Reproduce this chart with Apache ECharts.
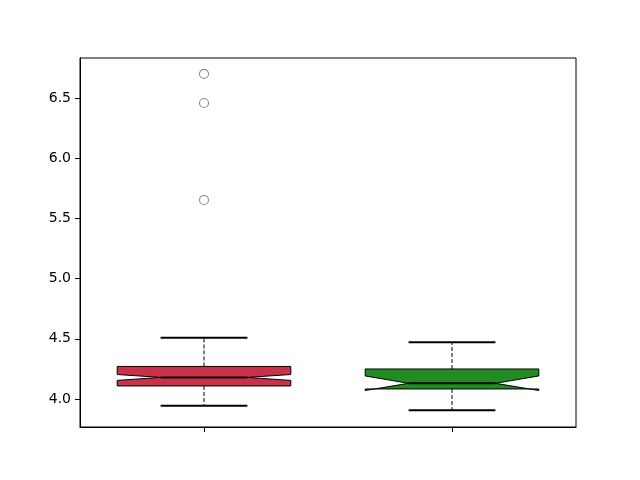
<!DOCTYPE html>
<html>
<head>
<meta charset="utf-8">
<script src="https://cdn.jsdelivr.net/npm/echarts@6/dist/echarts.min.js"></script>
<style>html,body{margin:0;padding:0;background:#fff}#c{width:640px;height:480px}</style>
</head>
<body>
<div id="c"></div>
<script>
// ---- data ----
const categories = ['1', '2'];
const whiskerLow = [3.944, 3.906];
const q1 = [4.108, 4.083];
const notchLow = [4.154, 4.070];
const median = [4.179, 4.130];
const notchHigh = [4.203, 4.191];
const q3 = [4.270, 4.249];
const whiskerHigh = [4.509, 4.471];
const outliersA = [5.653, 6.458, 6.700];
const outliersB = [];
const yTicks = [4.0, 4.5, 5.0, 5.5, 6.0, 6.5];
const boxColors = ['#c8334b', '#228b22'];

const boxData = categories.map((c, i) => [i, whiskerLow[i], q1[i], notchLow[i], median[i], notchHigh[i], q3[i], whiskerHigh[i]]);
const outlierData = [];
outliersA.forEach(v => outlierData.push([0, v]));
outliersB.forEach(v => outlierData.push([1, v]));

function renderBox(params, api) {
  const i = api.value(0);
  const band = api.size([1, 0])[0];
  const bw = band * 0.7;
  const cw = bw * 0.5;
  const c = api.coord([i, api.value(4)]);
  const x = c[0];
  const y = v => api.coord([i, v])[1];
  const wl = y(api.value(1)), bq1 = y(api.value(2)), nl = y(api.value(3)),
        md = y(api.value(4)), nh = y(api.value(5)), bq3 = y(api.value(6)), wh = y(api.value(7));
  const L = x - bw / 2, R = x + bw / 2, cl = x - cw / 2, cr = x + cw / 2;
  const pts = [[L, bq1], [R, bq1], [R, nl], [cr, md], [R, nh], [R, bq3], [L, bq3], [L, nh], [cl, md], [L, nl], [L, bq1]];
  const dash = { stroke: '#000', lineWidth: 1, lineDash: [4, 2] };
  const solid2 = { stroke: '#000', lineWidth: 2 };
  return {
    type: 'group',
    children: [
      { type: 'line', shape: { x1: x, y1: bq1, x2: x, y2: wl }, style: dash },
      { type: 'line', shape: { x1: x, y1: bq3, x2: x, y2: wh }, style: dash },
      { type: 'line', shape: { x1: cl, y1: wl, x2: cr, y2: wl }, style: solid2 },
      { type: 'line', shape: { x1: cl, y1: wh, x2: cr, y2: wh }, style: solid2 },
      { type: 'polygon', shape: { points: pts }, style: { fill: boxColors[i], stroke: '#000', lineWidth: 1 } },
      { type: 'line', shape: { x1: cl, y1: md, x2: cr, y2: md }, style: solid2 }
    ]
  };
}

const chart = echarts.init(document.getElementById('c'), null, { renderer: 'canvas' });
chart.setOption({
  animation: false,
  backgroundColor: '#fff',
  grid: { left: 80, right: 64, top: 58, bottom: 53, show: true, borderColor: '#000', borderWidth: 1, containLabel: false },
  xAxis: {
    type: 'category', data: categories, boundaryGap: true,
    axisLine: { show: true, lineStyle: { color: '#000', width: 1 } },
    axisTick: { show: true, alignWithLabel: true, length: 5, lineStyle: { color: '#000' } },
    axisLabel: { show: false },
    splitLine: { show: false }
  },
  yAxis: {
    type: 'value', min: 3.767, max: 6.832,
    axisLine: { show: true, lineStyle: { color: '#000', width: 1 } },
    axisTick: { show: true, length: 5, customValues: yTicks, lineStyle: { color: '#000' } },
    axisLabel: { show: true, customValues: yTicks, margin: 9, color: '#000', fontFamily: 'DejaVu Sans', fontSize: 14,
      formatter: v => Number(v).toFixed(1) },
    splitLine: { show: false }
  },
  series: [
    { type: 'custom', renderItem: renderBox, data: boxData, encode: { x: 0, y: [1, 7] }, z: 2 },
    { type: 'scatter', data: outlierData, symbol: 'circle', symbolSize: 9,
      itemStyle: { color: 'rgba(0,0,0,0)', borderColor: '#707070', borderWidth: 1.1 }, z: 3 }
  ]
});
</script>
</body>
</html>
